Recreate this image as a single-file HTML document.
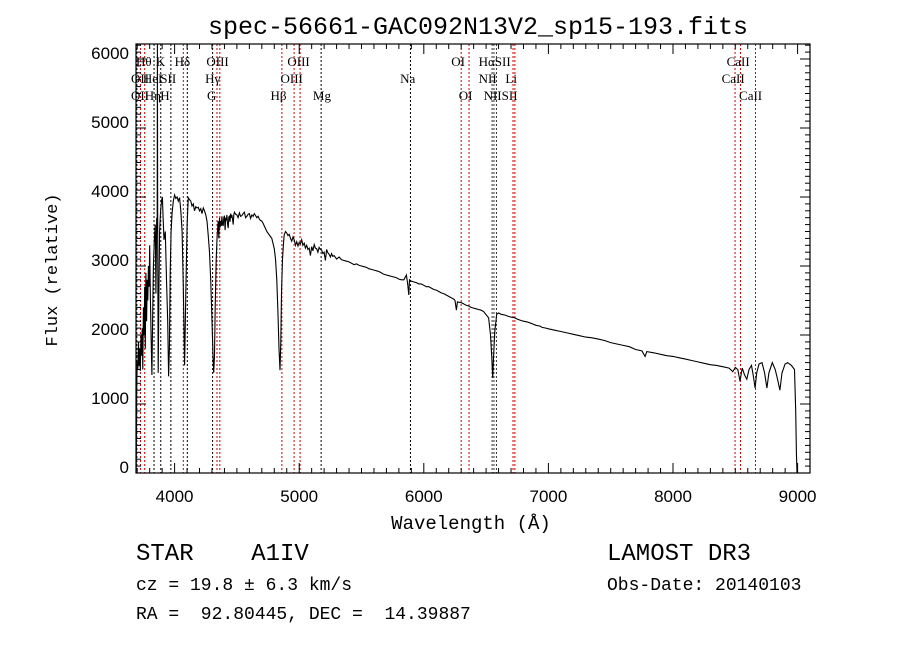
<!DOCTYPE html>
<html><head><meta charset="utf-8"><style>
body{margin:0;background:#fff;}
svg{display:block;}
text{font-family:"Liberation Mono",monospace;fill:#000;white-space:pre;}
.ser{font-family:"Liberation Serif",serif;font-size:13px;}
.tk{font-family:"Liberation Sans",sans-serif;font-size:17px;}
</style></head><body>
<svg id="chart" width="900" height="649" viewBox="0 0 900 649">
<text x="478" y="34" text-anchor="middle" font-size="25">spec-56661-GAC092N13V2_sp15-193.fits</text>
<g id="lines"></g>
<g id="labels"></g>
<polyline id="spec" fill="none" stroke="#000" stroke-width="1.1"/>
<rect x="136" y="44" width="674" height="429" fill="none" stroke="#000" stroke-width="1.2"/>
<g id="ticks"></g>
<text x="471" y="529" text-anchor="middle" font-size="19">Wavelength (Å)</text>
<text transform="translate(57,270) rotate(-90)" text-anchor="middle" font-size="17">Flux (relative)</text>
<text x="136" y="560" font-size="24" xml:space="preserve">STAR    A1IV</text>
<text x="136" y="590" font-size="18" xml:space="preserve">cz = 19.8 ± 6.3 km/s</text>
<text x="136" y="619" font-size="18" xml:space="preserve">RA =  92.80445, DEC =  14.39887</text>
<text x="607" y="560" font-size="24">LAMOST DR3</text>
<text x="607" y="590" font-size="18">Obs-Date: 20140103</text>
</svg>
<script>
const wave=[3690,3692,3694,3696,3700,
3705,3710,3715,3720,3725,3730,3735,3740,3745,3750,3755,3760,3765,3770,3775,3780,3785,3790,3795,3800,
3805,3812,3818,3824,3830,3838,3845,3850,3856,3860,3862,3864,3868,3874,3880,3888,3896,3902,3908,3915,3925,3935,3945,3952,3958,3965,3972,3980,3990,4000,
4010,4020,4030,4040,4050,4060,4070,4080,4090,4100,4110,4120,4130,4140,4150,4160,4170,4180,4190,4200,4210,4220,4230,4240,4250,4260,4270,4280,4290,4300,
4308,4314,4320,4326,4334,4342,4350,4355,
4360,4365,4370,4375,4380,4385,4390,4395,4400,4405,4410,4415,4420,4425,4430,4435,4440,4445,4450,4455,4460,4465,4470,4475,4480,
4490,4500,4510,4520,4530,4540,4550,4560,4570,4580,4590,4600,4610,4620,4630,4640,4650,4660,4670,4680,4690,4700,4710,4720,4730,4740,
4780,4800,4810,4820,4830,4838,4846,4852,4858,4866,4875,
4880,4890,4900,4910,4920,4930,4940,4950,4960,4970,4980,4990,5000,5010,5020,5030,5040,5050,5060,5070,5080,5090,5100,5110,5120,5130,5140,5150,5160,5170,5180,5190,5200,5210,5220,5230,5240,5250,5260,5270,5280,
5300,5320,5340,5360,5380,5400,5420,5440,5460,5480,5500,5520,5540,5560,5580,5600,5620,5640,5660,5680,5700,5720,5740,5760,5780,5800,5820,5840,5860,
5870,5880,5885,5900,
5920,5940,5960,5980,6000,6020,6040,6060,6080,6100,6120,6140,6160,6180,6200,6220,6240,
6250,6262,6270,
6300,6320,6340,6360,6380,6400,6420,6440,6460,6480,
6520,6535,6545,6553,6560,6570,6585,
6600,6620,6650,6680,6700,6730,6750,6780,6800,6830,6860,6900,6930,6950,6980,7000,7050,7100,7150,7200,7250,7300,7350,7400,7450,7500,7550,
7600,7650,7700,7750,7776,7790,7850,7900,7950,8000,8050,8100,8150,8200,8250,8300,8350,8400,8450,8480,8500,8520,8538,8555,8575,8592,8610,8630,8645,8659,8672,8690,8714,8735,8754,8770,8797,8820,8840,8858,8875,8900,8920,8950,8975,8985,8990,8995];
const flux=[0,50,600,1200,1600,
1500,1900,1550,1800,1480,2000,1700,2100,1500,2400,2000,2700,1800,2900,2200,2800,2500,3000,2700,3300,
2600,1900,1420,2300,3000,3400,3600,2600,3700,3560,6300,3500,1450,2600,3500,3800,3950,4000,3700,3380,3500,2800,2200,1400,1800,2900,3500,3770,3950,4030,
3980,4000,3940,3990,3800,3500,2700,1560,2600,3600,3990,3960,3940,3870,3900,3800,3860,3840,3850,3800,3830,3760,3840,3800,3740,3650,3450,3200,2800,2200,
1700,1450,1700,2400,3100,3450,3650,3400,
3700,3560,3650,3580,3720,3600,3580,3700,3730,3520,3700,3660,3740,3600,3550,3710,3720,3640,3760,3700,3740,3680,3600,3740,3780,
3750,3740,3700,3770,3720,3730,3760,3780,3700,3720,3750,3760,3690,3740,3720,3760,3730,3700,3720,3680,3660,3650,3620,3580,3540,3500,
3400,3250,3100,2800,2300,1800,1490,1900,2600,3100,3350,
3450,3500,3480,3440,3460,3400,3360,3420,3380,3300,3350,3290,3340,3320,3380,3300,3330,3260,3300,3240,3260,3150,3280,3220,3310,3260,3250,3200,3270,3240,3230,3180,3200,3080,3240,3190,3170,3130,3180,3140,3150,
3100,3130,3090,3080,3070,3060,3040,3020,3030,3010,3000,2990,2980,2960,2950,2940,2930,2920,2900,2880,2870,2860,2850,2840,2830,2810,2800,2800,2870,
2750,2580,2800,2780,
2770,2760,2740,2740,2720,2700,2700,2680,2660,2650,2630,2610,2600,2580,2560,2540,2520,
2500,2360,2480,
2470,2450,2430,2420,2400,2390,2380,2370,2360,2340,
2250,2000,1700,1380,1700,2050,2300,
2320,2300,2290,2270,2260,2250,2230,2210,2200,2190,2170,2140,2130,2110,2100,2090,2070,2050,2030,2010,1990,1970,1960,1940,1920,1890,1870,
1850,1830,1790,1770,1690,1760,1740,1720,1700,1690,1670,1650,1630,1610,1590,1570,1560,1540,1520,1470,1530,1500,1330,1520,1420,1360,1500,1560,1400,1230,1450,1580,1600,1450,1230,1450,1600,1500,1350,1200,1450,1580,1600,1560,1500,900,300,0];
const lineWave=[3697,3726,3760,3835,3889,3970,4070,4102,4305,4340,4363,4861,4959,5007,5176,5893,6300,6363,6548,6563,6583,6716,6731,8498,8542,8662];
const lineColor=["#000","#c00","#c00","#000","#000","#000","#c00","#000","#000","#c00","#c00","#c00","#c00","#c00","#000","#000","#c00","#c00","#333","#333","#333","#c00","#c00","#c00","#c00","#c00"];
const labText=["Hθ","K","Hδ","OIII","OIII","OI","HαSII","CaII","OII","HeI","SII","Hγ","OIII","Na","NII","Li","CaII","OII","Hη","H","G","Hβ","Mg","OI","NIISII","CaII"];
const labWave=[3690,3850,4000,4255,4905,6220,6440,8430,3650,3745,3885,4245,4850,5810,6440,6655,8390,3650,3760,3885,4260,4770,5110,6280,6480,8530];
const labRow=[0,0,0,0,0,0,0,0,1,1,1,1,1,1,1,1,1,2,2,2,2,2,2,2,2,2];
const xTicks=[4000,5000,6000,7000,8000,9000];
const yTicks=[0,1000,2000,3000,4000,5000,6000];
const L=136,R=810,T=44,B=473;
function X(w){return 174.6+(w-4000)*0.1246;}
function Y(f){return 473-f*0.069;}
const NS="http://www.w3.org/2000/svg";
function mk(tag,attrs,parent){const e=document.createElementNS(NS,tag);for(const k in attrs)e.setAttribute(k,attrs[k]);parent.appendChild(e);return e;}
let pts=[];
const n=Math.min(wave.length,flux.length);
for(let i=0;i<n;i++){pts.push(X(wave[i]).toFixed(1)+","+Math.max(T,Y(flux[i])).toFixed(1));}
document.getElementById('spec').setAttribute('points',pts.join(' '));
const gl=document.getElementById('lines');
lineWave.forEach((w,i)=>{const l=mk('line',{x1:X(w),x2:X(w),y1:T,y2:B,stroke:lineColor[i],'stroke-width':1,'stroke-dasharray':'2,2'},gl);

});
const gb=document.getElementById('labels');
labText.forEach((t,i)=>{const e=mk('text',{x:X(labWave[i]),y:66+labRow[i]*17,class:'ser'},gb);e.textContent=t;

});
const gt=document.getElementById('ticks');
for(let w=3700;w<=9100;w+=100){const x=X(w);if(x<L||x>R)continue;const maj=w%1000===0;const len=maj?10:5;
mk('line',{x1:x,x2:x,y1:B,y2:B-len,stroke:'#000'},gt);mk('line',{x1:x,x2:x,y1:T,y2:T+len,stroke:'#000'},gt);}
for(let f=0;f<=6200;f+=100){const y=Y(f);if(y<T)continue;const maj=f%1000===0;const len=maj?10:5;
mk('line',{x1:L,x2:L+len,y1:y,y2:y,stroke:'#000'},gt);mk('line',{x1:R,x2:R-len,y1:y,y2:y,stroke:'#000'},gt);}
xTicks.forEach(v=>{const e=mk('text',{x:X(v),y:502,'text-anchor':'middle',class:'tk'},gt);e.textContent=v;

});
yTicks.forEach(v=>{const e=mk('text',{x:129,y:Y(v)+0,'text-anchor':'end',class:'tk'},gt);e.textContent=v;

});
</script>
</body></html>
